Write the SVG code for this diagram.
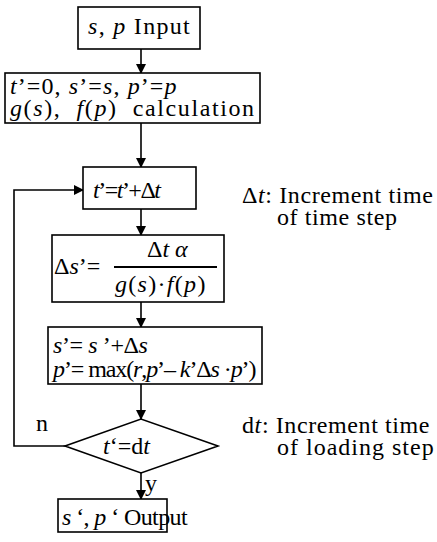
<svg xmlns="http://www.w3.org/2000/svg" width="437" height="542" viewBox="0 0 437 542">
<defs>
<marker id="ah" markerWidth="10" markerHeight="10" refX="9" refY="5" orient="auto" markerUnits="userSpaceOnUse">
<path d="M0,0 L10,5 L0,10 Z" fill="#000"/>
</marker>
</defs>
<style>
.b{fill:#fff;stroke:#000;stroke-width:1.6}
.c{fill:none;stroke:#000;stroke-width:1.6}
text{font-family:"Liberation Serif","Times New Roman",serif;font-size:24px;fill:#000}
.i{font-style:italic}
</style>
<rect width="437" height="542" fill="#fff"/>
<g id="connectors">
<path class="c" d="M141,49 V73" marker-end="url(#ah)"/>
<path class="c" d="M141,123 V167" marker-end="url(#ah)"/>
<path class="c" d="M141,209 V235" marker-end="url(#ah)"/>
<path class="c" d="M141,302 V327" marker-end="url(#ah)"/>
<path class="c" d="M141,384 V419" marker-end="url(#ah)"/>
<path class="c" d="M141,473 V499" marker-end="url(#ah)"/>
<path class="c" d="M65,446 H14 V190 H83" marker-end="url(#ah)"/>
<text x="36" y="431">n</text>
<text x="145" y="491">y</text>
</g>
<g id="n1">
<rect class="b" x="78" y="7" width="122" height="42"/>
<text x="88" y="34" letter-spacing="1.3"><tspan class="i">s</tspan>, <tspan class="i">p</tspan> Input</text>
</g>
<g id="n2">
<rect class="b" x="5" y="73" width="255" height="50"/>
<text x="10" y="94" letter-spacing="1.1"><tspan class="i">t</tspan>’=0, <tspan class="i">s</tspan>’=<tspan class="i">s</tspan>, <tspan class="i">p</tspan>’=<tspan class="i">p</tspan></text>
<text x="10" y="116" letter-spacing="1.6" xml:space="preserve"><tspan class="i">g</tspan>(<tspan class="i">s</tspan>),  <tspan class="i">f</tspan>(<tspan class="i">p</tspan>)  calculation</text>
</g>
<g id="n3">
<rect class="b" x="83" y="167" width="113" height="42"/>
<text x="93" y="198" letter-spacing="-1.5"><tspan class="i">t</tspan>’=<tspan class="i">t</tspan>’+Δ<tspan class="i">t</tspan></text>
</g>
<g id="n4">
<rect class="b" x="52" y="235" width="172" height="67"/>
<text x="54" y="274">Δ<tspan class="i">s</tspan>’=</text>
<line x1="114" y1="267" x2="217" y2="267" stroke="#000" stroke-width="2"/>
<text x="147" y="257">Δ<tspan class="i">t α</tspan></text>
<text x="115" y="292" font-size="26" letter-spacing="1.3"><tspan class="i">g</tspan>(<tspan class="i">s</tspan>)·<tspan class="i">f</tspan>(<tspan class="i">p</tspan>)</text>
</g>
<g id="n5">
<rect class="b" x="48" y="327" width="214" height="57"/>
<text x="53" y="353" letter-spacing="-0.4"><tspan class="i">s</tspan>’= <tspan class="i">s</tspan> ’+Δ<tspan class="i">s</tspan></text>
<text x="53" y="377" letter-spacing="-1.1"><tspan class="i">p</tspan>’= max(<tspan class="i">r</tspan>,<tspan class="i">p</tspan>’– <tspan class="i">k</tspan>’Δ<tspan class="i">s</tspan> ·<tspan class="i">p</tspan>’)</text>
</g>
<g id="n6">
<polygon class="b" points="65,446 141,419 218,446 141,473"/>
<text x="103" y="454"><tspan class="i">t</tspan>‘=d<tspan class="i">t</tspan></text>
</g>
<g id="n7">
<rect class="b" x="58" y="499" width="109" height="33"/>
<text x="62" y="525" font-size="20" letter-spacing="-0.6" xml:space="preserve"><tspan class="i">s</tspan> ‘, <tspan class="i">p</tspan> ‘ Output</text>
</g>
<g id="note1">
<text x="242" y="203" letter-spacing="0.6">Δ<tspan class="i">t</tspan>: Increment time</text>
<text x="277" y="225" letter-spacing="0.6">of time step</text>
</g>
<g id="note2">
<text x="242" y="433" letter-spacing="0.6">d<tspan class="i">t</tspan>: Increment time</text>
<text x="277" y="455" letter-spacing="1">of loading step</text>
</g>
</svg>
